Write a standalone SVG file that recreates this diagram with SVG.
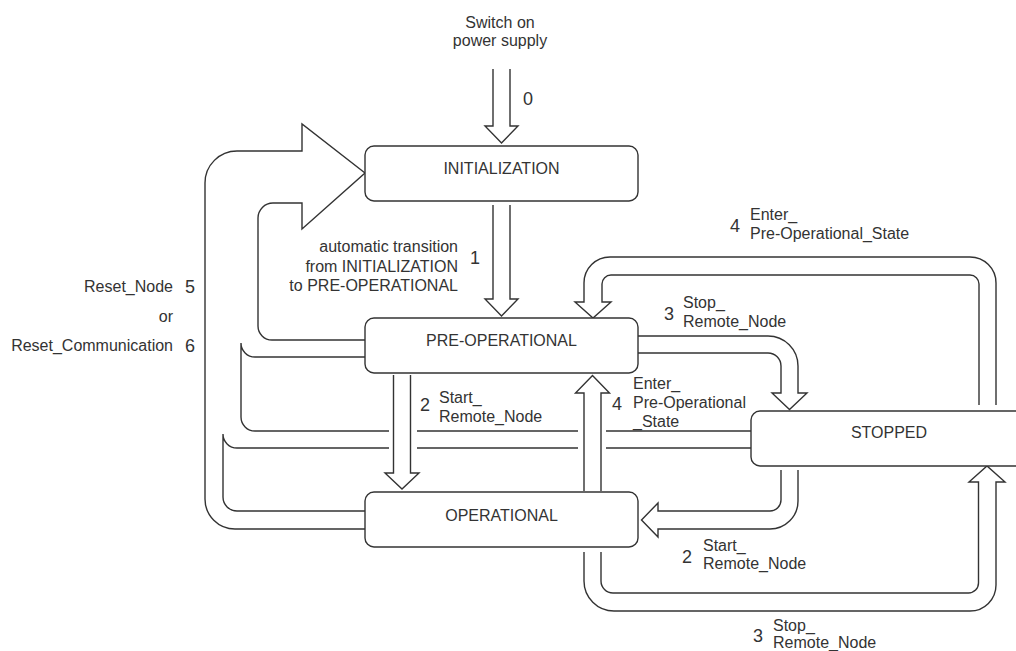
<svg xmlns="http://www.w3.org/2000/svg" width="1016" height="651" viewBox="0 0 1016 651">
<style>
.box{fill:#fff;stroke:#333;stroke-width:1.4}
.c{fill:none;stroke:#333;stroke-width:1.4;stroke-linejoin:miter}
.a{fill:#fff;stroke:#333;stroke-width:1.4;stroke-linejoin:miter}
text{font-family:"Liberation Sans",Arial,Helvetica,sans-serif;fill:#333;font-size:16px}
.n{font-size:18px}
.m{text-anchor:middle}
.r{text-anchor:end}
</style>
<rect width="1016" height="651" fill="#fff"/>
<g id="connectors">
  <!-- 0: power on -->
  <path id="t0" class="a" d="M493,69 V126 H485 L501.5,143 L518,126 H510 V69"/>
  <!-- 1: INIT -> PRE-OP -->
  <path id="t1" class="a" d="M493,205 V299 H485 L501.5,316 L518,299 H510 V205"/>
  <!-- 2: PRE-OP -> OP -->
  <path id="t2a" class="a" d="M393.5,375 V473 H385 L402,489 L419,473 H410.5 V375"/>
  <!-- 4: OP -> PRE-OP -->
  <path id="t4a" class="a" d="M584,491 V393 H575.5 L592.5,375.5 L609.5,393 H601 V491"/>
  <!-- 3: PRE-OP -> STOPPED -->
  <path id="t3a" class="a" d="M638,336 H768 A30,30 0 0 1 798,366 V393 H807 L789.5,409.5 L772,393 H781 V366 A13,13 0 0 0 768,353 H638"/>
  <!-- 4: STOPPED -> PRE-OP -->
  <path id="t4b" class="c" d="M996,405 V283 A26,26 0 0 0 970,257 H610 A26,26 0 0 0 584,283 V302 H575 L593,318 L611,302 H602 V284 A9,9 0 0 1 611,275 H970 A9,9 0 0 1 979,284 V405"/>
  <!-- 2: STOPPED -> OP -->
  <path id="t2b" class="c" d="M781,470 V500 A11,11 0 0 1 770,511 H658 V503 L641.5,520 L658,537 V529 H770 A28,28 0 0 0 798,501 V470"/>
  <!-- 3: OP -> STOPPED -->
  <path id="t3b" class="c" d="M584,552 V581 A30,30 0 0 0 614,611 H970 A26,26 0 0 0 996,585 V482 H1005 L987,466 L969,482 H978.5 V583 A10,10 0 0 1 968.5,593 H613 A12,12 0 0 1 601,581 V552"/>
  <!-- 5/6: reset -> INIT -->
  <path id="t56" class="c" d="M365,529 H235 A30,30 0 0 1 205,499 V183 A32,32 0 0 1 237,151 H302 V124 L365,173 L302,229 V203 H273 A15,15 0 0 0 258,218 V326 A14,14 0 0 0 272,340 H365"/>
  <path id="t56b" class="c" d="M365,357 H255 A14,14 0 0 1 241,343 V417 A14,14 0 0 0 255,431 H389 M417,431 H578 M606,431 H751"/>
  <path id="t56c" class="c" d="M751,448 H606 M578,448 H417 M389,448 H237 A14,14 0 0 1 223,434 V497 A14,14 0 0 0 237,511 H365"/>
</g>
<g id="node-init">
  <rect class="box" x="365" y="146" width="273" height="55" rx="9"/>
  <text class="m" x="501.5" y="173.5">INITIALIZATION</text>
</g>
<g id="node-preop">
  <rect class="box" x="365" y="318" width="273" height="55" rx="9"/>
  <text class="m" x="501.5" y="346">PRE-OPERATIONAL</text>
</g>
<g id="node-op">
  <rect class="box" x="365" y="492" width="273" height="55" rx="9"/>
  <text class="m" x="501.5" y="520.5">OPERATIONAL</text>
</g>
<g id="node-stopped">
  <rect class="box" x="751" y="411" width="273" height="55" rx="9"/>
  <text class="m" x="889" y="438">STOPPED</text>
</g>
<g id="labels">
  <text class="m" x="500" y="28">Switch on</text>
  <text class="m" x="500" y="45.5">power supply</text>
  <text class="n" x="523" y="105">0</text>

  <text class="r" x="458" y="252">automatic transition</text>
  <text class="r" x="458" y="271.5">from INITIALIZATION</text>
  <text class="r" x="458" y="290.5">to PRE-OPERATIONAL</text>
  <text class="n" x="470" y="264">1</text>

  <text class="r" x="173" y="292">Reset_Node</text>
  <text class="n" x="185" y="293">5</text>
  <text class="r" x="173" y="322">or</text>
  <text class="r" x="173" y="351">Reset_Communication</text>
  <text class="n" x="185" y="352">6</text>

  <text class="n" x="420" y="411">2</text>
  <text x="439" y="403">Start_</text>
  <text x="439" y="421.5">Remote_Node</text>

  <text class="n" x="612" y="410">4</text>
  <text x="633" y="389">Enter_</text>
  <text x="633" y="408">Pre-Operational</text>
  <text x="633" y="426.5">_State</text>

  <text class="n" x="664" y="319.5">3</text>
  <text x="683" y="307.5">Stop_</text>
  <text x="683" y="326.5">Remote_Node</text>

  <text class="n" x="730" y="232">4</text>
  <text x="750" y="220">Enter_</text>
  <text x="750" y="239">Pre-Operational_State</text>

  <text class="n" x="682" y="563">2</text>
  <text x="703" y="551">Start_</text>
  <text x="703" y="569">Remote_Node</text>

  <text class="n" x="753" y="642">3</text>
  <text x="773" y="630.5">Stop_</text>
  <text x="773" y="648">Remote_Node</text>
</g>
</svg>
